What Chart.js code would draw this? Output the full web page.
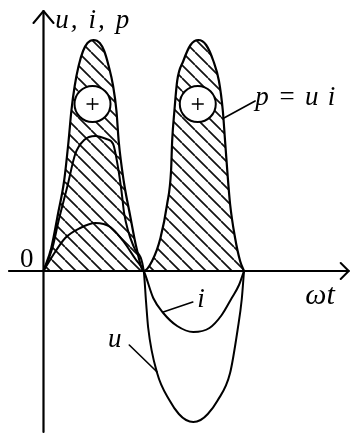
<!DOCTYPE html>
<html>
<head>
<meta charset="utf-8">
<script src="https://cdn.jsdelivr.net/npm/chart.js@4"></script>
<style>
  html, body { margin: 0; padding: 0; background: #fff; }
  #wrap { width: 350px; height: 435px; }
</style>
</head>
<body>
<div id="wrap"><canvas id="c" width="350" height="435"></canvas></div>
<script>
// Voltage u, current i and power p = u·i over one period; ωt in degrees.
const pAngle = [0, 14, 26, 37, 45, 50, 56, 63, 71, 79, 90, 101, 109, 117, 125, 131, 135, 144, 155, 167, 180,
                195, 210, 222, 229, 231, 235, 240, 251, 264, 278, 292, 305, 315, 322, 326, 330, 335, 344, 353, 360];
const pValue = [0, 23, 57, 90, 130, 160, 185, 205, 220, 228, 231, 228, 220, 205, 185, 160, 130, 90, 57, 23, 0,
                10, 33, 67, 100, 130, 160, 190, 210, 226, 231, 226, 210, 190, 160, 130, 100, 67, 33, 10, 0];

const uAngle = [0, 16, 27, 43, 57, 73, 93, 113, 125, 134, 140, 145, 163, 180,
                184, 188, 204, 227, 243, 256, 269, 282, 295, 312, 335, 349, 356, 360];
const uValue = [0, 23, 50, 85, 117, 131, 135, 132, 127, 103, 80, 57, 23, 0,
                -30, -57, -102, -130, -143, -149, -151, -149, -143, -130, -102, -57, -28, 0];

const iAngle = [0, 14, 39, 66, 93, 120, 143, 165, 180, 197, 215, 240, 269, 298, 320, 338, 351, 360];
const iValue = [0, 13, 33, 43, 48, 44, 30, 12, 0, -27, -42, -55, -61, -57, -44, -27, -14, 0];

// "+" signs marking the intervals where p > 0
const plusAngle = [88, 277];
const plusValue = [167, 167];

const toPoints = (xs, ys) => xs.map((x, k) => ({ x, y: ys[k] }));

// diagonal hatching for the area under p
function hatchPattern() {
  const s = 13;
  const c = document.createElement('canvas');
  c.width = s; c.height = s;
  const g = c.getContext('2d');
  g.strokeStyle = '#111';
  g.lineWidth = 1.7;
  g.beginPath();
  for (const o of [-s, 0, s]) { g.moveTo(o, 0); g.lineTo(o + s, s); }
  g.stroke();
  return g.createPattern(c, 'repeat');
}

const SERIF = '"Liberation Serif", "DejaVu Serif", serif';

// axes with arrows, leader lines and labels
const diagram = {
  id: 'diagram',
  afterDatasetsDraw(chart) {
    const { ctx, scales: { x, y } } = chart;
    const X = v => x.getPixelForValue(v);
    const Y = v => y.getPixelForValue(v);
    ctx.save();
    ctx.strokeStyle = '#000';
    ctx.lineCap = 'round';
    ctx.lineJoin = 'round';

    // axes
    ctx.lineWidth = 2.2;
    const x0 = X(0), y0 = Y(0);
    const top = Y(260), bottom = Y(-161);
    const left = X(-62), right = X(548);
    ctx.beginPath();
    ctx.moveTo(x0, top); ctx.lineTo(x0, bottom);
    ctx.moveTo(left, y0); ctx.lineTo(right, y0);
    ctx.stroke();
    ctx.lineWidth = 2;
    ctx.beginPath();
    ctx.moveTo(x0 - 10, top + 12); ctx.lineTo(x0, top); ctx.lineTo(x0 + 10, top + 12);
    ctx.moveTo(right - 8, y0 - 8); ctx.lineTo(right, y0); ctx.lineTo(right - 8, y0 + 8);
    ctx.stroke();

    // leader lines
    ctx.lineWidth = 1.6;
    const leaders = [
      [[324, 153], [380, 170]],
      [[215, -41], [268, -31]],
      [[154, -74], [204, -101]]
    ];
    ctx.beginPath();
    for (const [a, b] of leaders) { ctx.moveTo(X(a[0]), Y(a[1])); ctx.lineTo(X(b[0]), Y(b[1])); }
    ctx.stroke();

    // labels
    ctx.fillStyle = '#000';
    ctx.textBaseline = 'alphabetic';
    const put = (str, ax, val, font, width, align) => {
      ctx.font = font;
      ctx.letterSpacing = '0px';
      ctx.textAlign = align || 'left';
      if (width) {
        const w = ctx.measureText(str).width;
        if (w < width) ctx.letterSpacing = ((width - w) / Math.max(1, str.length - 1)) + 'px';
      }
      ctx.fillText(str, X(ax), Y(val));
    };
    const it = 'italic 27px ' + SERIF;
    put('u, i, p', 21, 243, it, 74);
    put('p = u i', 380, 166, it, 80);
    put('i', 276, -36, it);
    put('u', 116, -76, it);
    put('ωt', 470, -33, 'italic 30px ' + SERIF);
    put('0', -30, 4, '27px ' + SERIF, 0, 'center');
    ctx.restore();
  }
};

const curve = (data, order, width) => ({
  data, order,
  borderColor: '#000',
  borderWidth: width,
  pointRadius: 0,
  fill: false,
  cubicInterpolationMode: 'monotone',
  clip: false
});

const pSet = curve(toPoints(pAngle, pValue), 4, 2.2);
pSet.fill = 'origin';
pSet.backgroundColor = hatchPattern();

new Chart(document.getElementById('c'), {
  type: 'line',
  data: {
    datasets: [
      pSet,
      curve(toPoints(uAngle, uValue), 3, 2),
      curve(toPoints(iAngle, iValue), 2, 2),
      {
        data: toPoints(plusAngle, plusValue), order: 1, showLine: false,
        pointStyle: 'circle', pointRadius: 18,
        pointBackgroundColor: '#fff', pointBorderColor: '#000', pointBorderWidth: 2, clip: false
      },
      {
        data: toPoints(plusAngle, plusValue), order: 0, showLine: false,
        pointStyle: 'cross', pointRadius: 6,
        pointBorderColor: '#000', pointBorderWidth: 1.4, clip: false
      }
    ]
  },
  options: {
    responsive: false,
    animation: false,
    events: [],
    layout: { padding: 0, autoPadding: false },
    plugins: { legend: { display: false }, tooltip: { enabled: false } },
    scales: {
      x: { type: 'linear', min: -78.1, max: 550.3, display: false },
      y: { type: 'linear', min: -164, max: 271, display: false }
    }
  },
  plugins: [diagram]
});
</script>
</body>
</html>
